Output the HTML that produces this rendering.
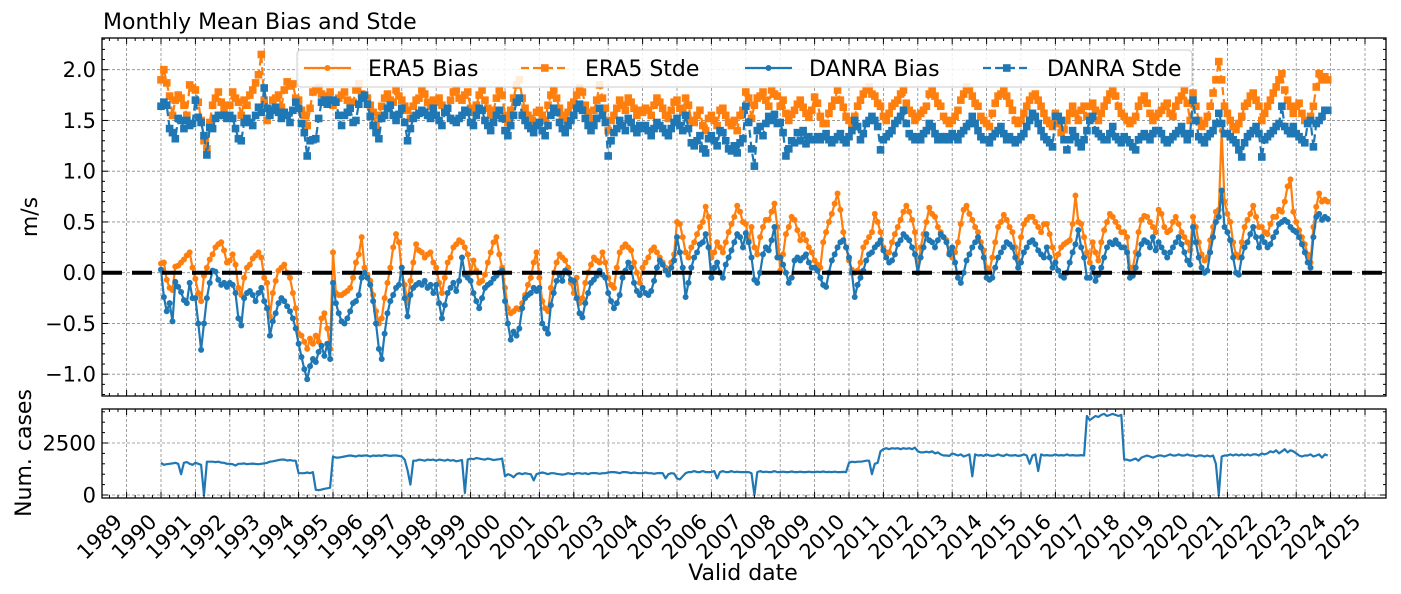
<!DOCTYPE html>
<html><head><meta charset="utf-8"><style>
html,body{margin:0;padding:0;background:#fff;}
svg{display:block;font-family:"DejaVu Sans","Liberation Sans",sans-serif;}
</style></head><body>
<svg id="chart" width="1401" height="594" viewBox="0 0 1401 594" xmlns="http://www.w3.org/2000/svg">
<defs>
<clipPath id="clipMain"><rect x="102" y="38" width="1284" height="358"/></clipPath>
<clipPath id="clipBot"><rect x="102" y="409" width="1284" height="89"/></clipPath>
</defs>
<text x="103" y="29" font-size="22" fill="#000">Monthly Mean Bias and Stde</text>
<text transform="translate(37,217) rotate(-90)" text-anchor="middle" font-size="22">m/s</text>
<text transform="translate(31,453) rotate(-90)" text-anchor="middle" font-size="22">Num. cases</text>
<text x="743" y="580" text-anchor="middle" font-size="22">Valid date</text>
<g id="gMain"></g>
<g id="gBot"></g>
<g id="gAxes"></g>
<g id="gLegend"></g>
</svg>
<script>
const startYear = 1990;
const mainTicks = [-1.0, -0.5, 0.0, 0.5, 1.0, 1.5, 2.0];
const mainTickLabels = ["\u22121.0", "\u22120.5", "0.0", "0.5", "1.0", "1.5", "2.0"];
const caseTicks = [0, 2500];
const caseTickLabels = ["0", "2500"];
const yearTicks = [1989,1990,1991,1992,1993,1994,1995,1996,1997,1998,1999,2000,2001,2002,2003,2004,2005,2006,2007,2008,2009,2010,2011,2012,2013,2014,2015,2016,2017,2018,2019,2020,2021,2022,2023,2024,2025];

const era5Bias = [
0.09,0.10,-0.07,-0.15,-0.17,0.06,0.07,0.10,0.13,0.17,0.20,0.05,
-0.06,-0.20,-0.28,-0.03,0.05,0.13,0.18,0.25,0.28,0.30,0.22,0.10,
0.12,0.18,0.08,-0.15,-0.22,-0.05,0.05,0.08,0.14,0.17,0.20,0.15,
-0.05,-0.10,-0.43,-0.20,-0.08,0.02,0.05,0.08,0.00,-0.05,-0.20,-0.35,
-0.60,-0.62,-0.68,-0.75,-0.65,-0.70,-0.62,-0.68,-0.45,-0.40,-0.55,-0.75,
0.20,-0.20,-0.22,-0.22,-0.20,-0.18,-0.15,-0.05,0.10,0.18,0.35,0.05,
-0.02,-0.08,-0.22,-0.38,-0.50,-0.45,-0.25,-0.10,0.05,0.25,0.38,0.30,
0.00,-0.12,-0.30,-0.08,0.10,0.28,0.22,0.20,0.15,0.18,0.20,0.10,
0.05,-0.10,-0.20,-0.05,0.10,0.15,0.25,0.28,0.32,0.30,0.25,0.18,
0.00,0.12,0.02,-0.10,-0.08,-0.02,0.10,0.20,0.30,0.35,0.18,0.05,
-0.15,-0.35,-0.40,-0.38,-0.35,-0.36,-0.30,-0.22,-0.12,-0.05,0.10,0.20,
-0.05,-0.28,-0.35,-0.38,-0.15,0.00,0.10,0.18,0.15,0.12,0.05,-0.10,
-0.20,-0.05,-0.30,-0.25,-0.10,0.00,0.08,0.15,0.12,0.10,0.20,0.10,
-0.05,-0.12,-0.15,0.05,0.20,0.25,0.28,0.25,0.22,0.10,0.00,-0.10,
0.05,0.10,0.15,0.22,0.25,0.20,0.15,0.10,0.05,0.02,0.10,0.18,
0.50,0.48,0.35,0.20,0.15,0.25,0.30,0.38,0.45,0.50,0.65,0.55,
0.15,0.20,0.30,0.25,0.20,0.30,0.40,0.48,0.55,0.66,0.60,0.50,
0.48,0.32,0.45,0.25,0.18,0.35,0.45,0.52,0.52,0.60,0.68,0.45,
0.02,0.18,0.38,0.45,0.55,0.52,0.42,0.32,0.38,0.32,0.25,0.20,
0.12,0.08,0.05,0.30,0.40,0.50,0.58,0.68,0.78,0.62,0.40,0.25,
0.12,0.03,0.00,0.02,0.10,0.25,0.30,0.35,0.40,0.58,0.50,0.40,
0.25,0.20,0.20,0.30,0.38,0.45,0.52,0.60,0.66,0.60,0.52,0.40,
0.00,0.25,0.38,0.50,0.64,0.58,0.55,0.45,0.40,0.35,0.32,0.20,
0.15,0.20,0.30,0.48,0.62,0.66,0.58,0.52,0.45,0.40,0.30,0.22,
0.05,0.02,0.15,0.30,0.45,0.50,0.57,0.52,0.45,0.40,0.25,0.12,
0.35,0.48,0.52,0.55,0.55,0.50,0.45,0.40,0.48,0.48,0.38,0.25,
0.10,0.18,0.25,0.28,0.30,0.32,0.48,0.76,0.50,0.48,0.35,0.20,
0.10,0.30,0.20,0.12,0.30,0.42,0.50,0.58,0.55,0.50,0.45,0.40,
0.40,0.35,0.05,0.05,0.20,0.40,0.52,0.56,0.55,0.50,0.45,0.40,
0.62,0.58,0.45,0.40,0.42,0.50,0.55,0.48,0.40,0.35,0.30,0.22,
0.55,0.45,0.30,0.18,0.12,0.15,0.32,0.45,0.60,0.62,1.40,0.70,
0.58,0.50,0.30,0.18,0.15,0.30,0.45,0.52,0.58,0.66,0.55,0.45,
0.45,0.40,0.38,0.48,0.55,0.55,0.62,0.60,0.70,0.85,0.92,0.60,
0.50,0.42,0.35,0.28,0.18,0.10,0.45,0.65,0.78,0.70,0.72,0.70];

const danraBias = [
0.03,-0.24,-0.38,-0.30,-0.48,-0.09,-0.14,-0.19,-0.27,-0.30,-0.10,-0.25,
-0.25,-0.50,-0.76,-0.50,-0.25,-0.10,0.02,0.01,-0.07,-0.12,-0.10,-0.14,
-0.10,-0.12,-0.20,-0.45,-0.52,-0.25,-0.20,-0.18,-0.22,-0.28,-0.20,-0.15,
-0.28,-0.35,-0.62,-0.48,-0.40,-0.30,-0.25,-0.28,-0.33,-0.38,-0.45,-0.55,
-0.70,-0.83,-0.95,-1.05,-0.92,-0.85,-0.88,-0.78,-0.72,-0.82,-0.70,-0.85,
-0.10,-0.30,-0.40,-0.48,-0.50,-0.45,-0.38,-0.30,-0.28,-0.22,-0.05,0.00,
-0.05,-0.12,-0.28,-0.50,-0.75,-0.85,-0.60,-0.40,-0.28,-0.22,-0.15,-0.12,
0.05,-0.25,-0.43,-0.22,-0.15,-0.12,-0.10,-0.12,-0.08,-0.15,-0.12,-0.20,
-0.12,-0.30,-0.45,-0.32,-0.20,-0.15,-0.10,-0.18,-0.08,0.15,-0.02,-0.05,
-0.08,-0.20,-0.28,-0.35,-0.25,-0.15,-0.12,-0.10,-0.06,-0.03,0.00,0.02,
-0.28,-0.50,-0.66,-0.58,-0.62,-0.55,-0.35,-0.25,-0.22,-0.20,-0.15,-0.18,
-0.15,-0.50,-0.55,-0.60,-0.32,-0.20,-0.08,-0.02,-0.08,0.02,0.00,-0.07,
-0.08,-0.25,-0.40,-0.44,-0.30,-0.20,-0.10,-0.07,-0.03,0.02,-0.02,-0.05,
-0.20,-0.28,-0.35,-0.30,-0.22,-0.05,0.02,0.10,0.05,-0.10,-0.18,-0.22,
-0.15,-0.20,-0.22,-0.18,-0.08,0.05,0.12,0.08,0.02,-0.02,0.05,0.12,
0.35,0.20,0.05,-0.24,-0.10,0.05,0.15,0.20,0.28,0.30,0.38,0.25,
-0.05,0.05,0.10,0.00,-0.05,0.08,0.15,0.22,0.30,0.38,0.35,0.25,
0.39,0.30,0.15,-0.07,-0.10,0.00,0.18,0.25,0.22,0.32,0.45,0.15,
0.15,0.08,0.00,-0.10,-0.05,0.12,0.15,0.12,0.15,0.18,0.10,0.05,
0.05,0.02,-0.05,-0.12,-0.14,0.00,0.12,0.18,0.25,0.30,0.32,0.25,
0.15,0.00,-0.24,-0.12,-0.05,0.02,0.12,0.18,0.20,0.25,0.28,0.32,
0.22,0.15,0.10,0.12,0.18,0.28,0.32,0.38,0.35,0.32,0.25,0.18,
0.00,0.15,0.25,0.38,0.32,0.30,0.25,0.32,0.38,0.35,0.30,0.18,
0.25,0.10,-0.05,-0.10,0.00,0.12,0.18,0.25,0.30,0.35,0.25,0.15,
-0.05,-0.07,-0.05,0.05,0.15,0.20,0.25,0.30,0.28,0.25,0.15,0.05,
0.10,0.20,0.25,0.30,0.32,0.28,0.22,0.18,0.15,0.25,0.15,0.05,
0.10,0.02,-0.03,-0.05,0.00,0.10,0.20,0.28,0.42,0.25,0.15,-0.05,
-0.05,0.05,-0.08,-0.02,0.05,0.15,0.25,0.30,0.28,0.32,0.28,0.25,
0.25,0.20,-0.05,-0.03,0.05,0.18,0.28,0.32,0.30,0.25,0.35,0.22,
0.30,0.25,0.20,0.15,0.20,0.25,0.30,0.35,0.28,0.20,0.12,0.08,
0.45,0.30,0.15,0.05,0.00,0.02,0.20,0.35,0.50,0.55,0.81,0.45,
0.40,0.32,0.15,0.00,-0.02,0.15,0.25,0.30,0.38,0.45,0.35,0.25,
0.35,0.30,0.25,0.28,0.35,0.40,0.48,0.50,0.52,0.50,0.45,0.42,
0.40,0.35,0.28,0.20,0.10,0.05,0.35,0.55,0.58,0.52,0.55,0.53];

const era5Stde = [
1.90,2.00,1.87,1.74,1.55,1.70,1.75,1.72,1.65,1.55,1.85,1.82,
1.80,1.68,1.50,1.30,1.22,1.48,1.65,1.72,1.78,1.68,1.62,1.65,
1.65,1.78,1.72,1.68,1.55,1.70,1.65,1.75,1.80,1.87,1.95,2.15,
1.70,1.50,1.62,1.70,1.72,1.75,1.63,1.80,1.88,1.84,1.86,1.72,
1.70,1.60,1.55,1.45,1.62,1.78,1.80,1.82,1.76,1.74,1.70,1.78,
1.65,1.68,1.72,1.75,1.78,1.70,1.64,1.68,1.80,1.86,1.76,1.72,
1.72,1.65,1.58,1.45,1.55,1.64,1.72,1.76,1.70,1.68,1.80,1.74,
1.70,1.64,1.60,1.52,1.64,1.70,1.72,1.80,1.76,1.68,1.64,1.70,
1.68,1.72,1.65,1.60,1.62,1.70,1.78,1.80,1.72,1.70,1.75,1.78,
1.62,1.58,1.65,1.75,1.80,1.70,1.62,1.55,1.60,1.72,1.80,1.75,
1.55,1.48,1.60,1.72,1.85,1.90,1.72,1.62,1.55,1.52,1.48,1.58,
1.60,1.55,1.50,1.65,1.75,1.80,1.72,1.62,1.55,1.50,1.58,1.65,
1.68,1.75,1.82,1.78,1.65,1.58,1.52,1.60,1.70,1.85,1.72,1.62,
1.40,1.50,1.55,1.62,1.70,1.65,1.60,1.72,1.68,1.62,1.55,1.60,
1.58,1.62,1.60,1.55,1.65,1.72,1.68,1.62,1.55,1.52,1.60,1.68,
1.70,1.62,1.58,1.72,1.65,1.50,1.48,1.55,1.60,1.45,1.40,1.52,
1.55,1.50,1.45,1.60,1.62,1.55,1.48,1.45,1.50,1.40,1.55,1.60,
1.78,1.72,1.52,1.65,1.72,1.74,1.78,1.70,1.64,1.80,1.76,1.74,
1.64,1.70,1.57,1.50,1.56,1.60,1.66,1.70,1.63,1.57,1.53,1.60,
1.73,1.67,1.54,1.47,1.47,1.57,1.64,1.70,1.80,1.70,1.63,1.54,
1.50,1.47,1.54,1.64,1.70,1.76,1.80,1.83,1.76,1.74,1.67,1.64,
1.54,1.50,1.57,1.64,1.67,1.70,1.76,1.80,1.67,1.60,1.57,1.50,
1.54,1.57,1.60,1.64,1.76,1.80,1.74,1.67,1.64,1.54,1.50,1.47,
1.50,1.54,1.60,1.70,1.76,1.83,1.80,1.74,1.67,1.64,1.54,1.50,
1.47,1.44,1.57,1.67,1.74,1.76,1.80,1.74,1.67,1.60,1.50,1.47,
1.50,1.57,1.64,1.70,1.74,1.76,1.70,1.64,1.57,1.50,1.47,1.44,
1.57,1.47,1.38,1.41,1.50,1.57,1.64,1.57,1.50,1.60,1.64,1.54,
1.64,1.67,1.60,1.50,1.57,1.64,1.70,1.76,1.80,1.74,1.64,1.57,
1.54,1.50,1.47,1.50,1.54,1.64,1.70,1.74,1.67,1.57,1.50,1.54,
1.57,1.60,1.64,1.67,1.57,1.54,1.64,1.70,1.74,1.80,1.67,1.50,
1.77,1.64,1.50,1.44,1.47,1.54,1.64,1.77,1.90,2.08,1.90,1.64,
1.57,1.50,1.44,1.41,1.47,1.54,1.64,1.67,1.74,1.77,1.70,1.64,
1.50,1.57,1.64,1.70,1.77,1.83,1.90,1.96,1.80,1.70,1.64,1.57,
1.64,1.67,1.57,1.50,1.47,1.54,1.64,1.83,1.96,1.90,1.93,1.90];

const danraStde = [
1.64,1.68,1.65,1.42,1.38,1.32,1.52,1.50,1.42,1.50,1.45,1.47,
1.70,1.53,1.48,1.35,1.16,1.43,1.42,1.52,1.55,1.55,1.55,1.52,
1.55,1.52,1.42,1.32,1.30,1.48,1.52,1.48,1.45,1.55,1.63,1.58,
1.82,1.62,1.55,1.60,1.63,1.58,1.52,1.58,1.55,1.48,1.60,1.68,
1.62,1.47,1.38,1.15,1.30,1.31,1.32,1.52,1.68,1.70,1.66,1.70,
1.70,1.68,1.55,1.45,1.55,1.58,1.62,1.48,1.50,1.66,1.72,1.75,
1.66,1.54,1.45,1.38,1.32,1.52,1.55,1.62,1.65,1.55,1.50,1.56,
1.62,1.48,1.30,1.42,1.52,1.55,1.57,1.60,1.58,1.55,1.52,1.62,
1.55,1.50,1.45,1.58,1.62,1.52,1.50,1.48,1.52,1.55,1.60,1.58,
1.48,1.45,1.55,1.62,1.60,1.50,1.45,1.40,1.48,1.55,1.60,1.52,
1.40,1.35,1.45,1.55,1.68,1.72,1.55,1.50,1.45,1.42,1.38,1.45,
1.48,1.40,1.35,1.45,1.55,1.62,1.58,1.48,1.42,1.38,1.45,1.50,
1.55,1.62,1.66,1.60,1.52,1.45,1.40,1.45,1.52,1.62,1.55,1.48,
1.15,1.30,1.38,1.42,1.50,1.45,1.40,1.52,1.48,1.42,1.38,1.45,
1.42,1.45,1.40,1.35,1.42,1.48,1.45,1.42,1.38,1.35,1.42,1.48,
1.52,1.45,1.40,1.55,1.42,1.28,1.25,1.30,1.35,1.22,1.18,1.32,
1.35,1.30,1.25,1.40,1.38,1.30,1.22,1.20,1.25,1.18,1.28,1.32,
1.64,1.48,1.22,1.05,1.40,1.44,1.35,1.47,1.54,1.50,1.56,1.47,
1.48,1.38,1.15,1.22,1.30,1.28,1.38,1.30,1.40,1.27,1.34,1.31,
1.31,1.34,1.31,1.34,1.37,1.31,1.28,1.31,1.34,1.37,1.31,1.28,
1.34,1.40,1.50,1.44,1.31,1.37,1.47,1.50,1.54,1.50,1.44,1.21,
1.31,1.34,1.37,1.40,1.47,1.50,1.54,1.60,1.47,1.37,1.34,1.31,
1.34,1.31,1.37,1.40,1.47,1.44,1.37,1.31,1.34,1.31,1.34,1.31,
1.37,1.34,1.31,1.37,1.40,1.44,1.47,1.54,1.47,1.40,1.34,1.31,
1.31,1.28,1.34,1.37,1.40,1.44,1.37,1.31,1.34,1.31,1.28,1.31,
1.34,1.37,1.44,1.50,1.57,1.54,1.47,1.40,1.34,1.31,1.28,1.24,
1.54,1.54,1.50,1.31,1.21,1.31,1.40,1.34,1.28,1.24,1.31,1.40,
1.50,1.54,1.40,1.37,1.34,1.31,1.31,1.37,1.44,1.34,1.31,1.28,
1.34,1.31,1.28,1.24,1.21,1.31,1.34,1.37,1.34,1.31,1.37,1.40,
1.40,1.37,1.31,1.28,1.31,1.34,1.37,1.40,1.44,1.37,1.31,1.37,
1.70,1.50,1.34,1.31,1.28,1.34,1.37,1.40,1.47,1.57,1.47,1.37,
1.37,1.34,1.31,1.28,1.21,1.14,1.28,1.34,1.37,1.40,1.44,1.37,
1.14,1.31,1.34,1.37,1.40,1.44,1.47,1.64,1.44,1.40,1.37,1.44,
1.37,1.34,1.31,1.28,1.47,1.50,1.24,1.47,1.50,1.54,1.60,1.60];

const numCases = [
1550,1450,1480,1500,1520,1550,1500,1000,1550,1580,1500,1450,
1550,1500,1450,0,1600,1600,1600,1580,1600,1560,1550,1500,
1500,1480,1420,1500,1500,1520,1480,1500,1510,1490,1480,1500,
1520,1550,1600,1620,1650,1680,1700,1700,1660,1680,1650,1650,
1050,1050,1050,1080,1050,1100,250,230,260,300,320,350,
1850,1800,1800,1820,1850,1880,1900,1880,1850,1900,1880,1900,
1900,1850,1900,1880,1900,1880,1920,1900,1880,1900,1900,1880,
1850,1700,1200,500,1650,1650,1700,1680,1650,1700,1680,1700,
1650,1700,1680,1650,1700,1650,1680,1620,1650,1680,100,1700,
1750,1720,1780,1750,1720,1700,1750,1720,1680,1700,1720,1750,
900,1000,950,850,1000,1050,1000,1050,1020,1000,700,1000,
1050,1080,1050,1000,1050,1050,1020,1000,980,1000,1050,1020,
1000,1050,1050,1020,1050,1000,1050,1060,1050,1020,1050,1050,
1080,1100,1100,1080,1050,1100,1100,1080,1050,1080,1060,1050,
1050,1080,1050,1050,1020,1050,1060,1050,800,1000,1050,1030,
800,750,900,1050,1100,1100,1150,1100,1100,1150,1100,1100,
1100,1150,800,1100,1150,1100,1100,1150,1100,1120,1100,1100,
1100,1100,1050,0,1100,1150,1100,1120,1100,1100,1150,1100,
1100,1120,1100,1100,1130,1100,1100,1120,1100,1100,1120,1100,
1100,1120,1100,1130,1100,1110,1100,1120,1100,1100,1110,1100,
1550,1600,1580,1600,1600,1620,1650,1650,1000,1500,1550,2100,
2200,2250,2200,2250,2230,2250,2200,2250,2220,2250,2200,2280,
2100,2050,2050,2080,2050,2100,2000,2050,1950,1900,1900,1880,
2000,1950,1900,1950,1850,1900,1950,900,1950,1900,1920,1880,
1950,1900,1880,1900,1950,1900,1880,1950,1900,1900,1920,1880,
1900,1950,1900,1500,1900,1950,1150,1950,1900,1920,1900,1900,
1950,1900,1920,1900,1950,1900,1920,1900,1900,1920,1900,3800,
3600,3700,3800,3750,3850,3900,3800,3850,3900,3850,3800,3850,
1700,1700,1650,1700,1750,1650,1800,1850,1900,1850,1800,1850,
1900,1900,1850,1900,1950,1900,1900,1950,1900,1900,1950,1900,
1900,1850,1900,1900,1850,1900,1850,1900,1500,0,1850,1900,
1900,1950,1900,1950,1900,1950,1900,1950,1900,1950,1950,1900,
2000,1950,2000,2100,2050,2150,2000,2100,2200,2050,2150,2100,
2000,1900,1850,1900,1900,1950,1850,1900,1950,1800,1950,1900];

const NS = "http://www.w3.org/2000/svg";
const ORANGE = "#ff7f0e", BLUE = "#1f77b4";
const L = 102, R = 1386, T1 = 38, B1 = 396, T2 = 409, B2 = 498;
function xScale(t){ return 161 + (t - 1990) * 34.4; }
function yMain(v){ return 272.7 - v * 101.5; }
function yCases(v){ return 495 - v * 52 / 2500; }
function tOf(i){ return startYear + i / 12; }
function mk(tag, attrs, parent){ const e = document.createElementNS(NS, tag); for (const k in attrs) e.setAttribute(k, attrs[k]); parent.appendChild(e); return e; }

const gMain = document.getElementById("gMain");
const gBot = document.getElementById("gBot");
const gAxes = document.getElementById("gAxes");
const gLegend = document.getElementById("gLegend");

const gridMain = mk("g", {"clip-path":"url(#clipMain)"}, gMain);


const gridBot = mk("g", {"clip-path":"url(#clipBot)"}, gBot);


const gs = {stroke:"#8a8a8a","stroke-width":"0.8","stroke-dasharray":"3,2",fill:"none"};
yearTicks.forEach(yr => {
  const x = xScale(yr);
  mk("line", Object.assign({x1:x,x2:x,y1:T1,y2:B1}, gs), gridMain);
  mk("line", Object.assign({x1:x,x2:x,y1:T2,y2:B2}, gs), gridBot);
});
mainTicks.forEach(v => { const y = yMain(v); mk("line", Object.assign({x1:L,x2:R,y1:y,y2:y}, gs), gridMain); });
caseTicks.forEach(v => { const y = yCases(v); mk("line", Object.assign({x1:L,x2:R,y1:y,y2:y}, gs), gridBot); });

function drawSeries(arr, color, dashed, marker, name){
  const g = mk("g", {"clip-path":"url(#clipMain)"}, gMain);
  
  
  const pts = arr.map((v,i) => xScale(tOf(i)).toFixed(1) + "," + yMain(v).toFixed(1)).join(" ");
  const pl = mk("polyline", {points:pts, fill:"none", stroke:color, "stroke-width":"2.2", "stroke-linejoin":"round"}, g);
  if (dashed) pl.setAttribute("stroke-dasharray", "8,4");
  arr.forEach((v,i) => {
    const x = xScale(tOf(i)), y = yMain(v);
    let m;
    if (marker === "circle") m = mk("circle", {cx:x, cy:y, r:3, fill:color}, g);
    else m = mk("rect", {x:x-3.8, y:y-3.8, width:7.6, height:7.6, fill:color}, g);
    
    
  });
}
drawSeries(era5Bias, ORANGE, false, "circle", "era5-bias-series");
drawSeries(era5Stde, ORANGE, true, "square", "era5-stde-series");
drawSeries(danraBias, BLUE, false, "circle", "danra-bias-series");
drawSeries(danraStde, BLUE, true, "square", "danra-stde-series");

const zero = mk("line", {x1:L, x2:R, y1:yMain(0), y2:yMain(0), stroke:"#000", "stroke-width":"4", "stroke-dasharray":"20,10"}, gMain);



const cg = mk("g", {"clip-path":"url(#clipBot)"}, gBot);


const cpts = numCases.map((v,i) => xScale(tOf(i)).toFixed(1) + "," + yCases(v).toFixed(1)).join(" ");
mk("polyline", {points:cpts, fill:"none", stroke:BLUE, "stroke-width":"2.2", "stroke-linejoin":"round"}, cg);

function frame(top, bottom, name){
  const r = mk("rect", {x:L, y:top, width:R-L, height:bottom-top, fill:"none", stroke:"#000", "stroke-width":"1.3"}, gAxes);
  
  
}
frame(T1, B1, "main-axes-frame");
frame(T2, B2, "cases-axes-frame");
const tk = {stroke:"#000","stroke-width":"1"};
function xTicks(top, bottom){
  yearTicks.forEach(yr => {
    const x = xScale(yr);
    mk("line", Object.assign({x1:x,x2:x,y1:bottom,y2:bottom-6}, tk), gAxes);
    mk("line", Object.assign({x1:x,x2:x,y1:top,y2:top+6}, tk), gAxes);
    if (yr < 2025) for (let q = 1; q < 4; q++) {
      const xm = xScale(yr + q/4);
      if (xm > R) continue;
      mk("line", Object.assign({x1:xm,x2:xm,y1:bottom,y2:bottom-3}, tk), gAxes);
      mk("line", Object.assign({x1:xm,x2:xm,y1:top,y2:top+3}, tk), gAxes);
    }
  });
  for (let q = 1; q < 4; q++) { const xm = xScale(1989 - q/4); if (xm > L) { mk("line", Object.assign({x1:xm,x2:xm,y1:bottom,y2:bottom-3}, tk), gAxes); mk("line", Object.assign({x1:xm,x2:xm,y1:top,y2:top+3}, tk), gAxes); } }
}
xTicks(T1, B1); xTicks(T2, B2);
for (let v = -1.2; v <= 2.31; v += 0.1) {
  const vv = Math.round(v*10)/10, y = yMain(vv);
  if (y < T1 || y > B1) continue;
  const major = Math.abs(vv*2 - Math.round(vv*2)) < 1e-6;
  const len = major ? 6 : 3;
  mk("line", Object.assign({x1:L,x2:L+len,y1:y,y2:y}, tk), gAxes);
  mk("line", Object.assign({x1:R,x2:R-len,y1:y,y2:y}, tk), gAxes);
}
for (let v = 0; v <= 4000; v += 500) {
  const y = yCases(v), major = v % 2500 === 0, len = major ? 6 : 3;
  mk("line", Object.assign({x1:L,x2:L+len,y1:y,y2:y}, tk), gAxes);
  mk("line", Object.assign({x1:R,x2:R-len,y1:y,y2:y}, tk), gAxes);
}
mainTicks.forEach((v,i) => {
  const t = mk("text", {x:96, y:yMain(v)+7.5, "text-anchor":"end", "font-size":"21"}, gAxes);
  t.textContent = mainTickLabels[i];
  
  
});
caseTicks.forEach((v,i) => {
  const t = mk("text", {x:96, y:yCases(v)+7.5, "text-anchor":"end", "font-size":"21"}, gAxes);
  t.textContent = caseTickLabels[i];
  
  
});
yearTicks.forEach(yr => {
  const x = xScale(yr) - 3, y = 523;
  const t = mk("text", {x:x, y:y, "text-anchor":"end", "font-size":"21", transform:"rotate(-45 "+x+" "+y+")"}, gAxes);
  t.textContent = String(yr);
  
  
});

const lb = mk("rect", {x:297, y:50, width:895, height:37, rx:4, fill:"#fff", "fill-opacity":"0.85", stroke:"#cccccc", "stroke-width":"1"}, gLegend);


const legendLabels = ["ERA5 Bias", "ERA5 Stde", "DANRA Bias", "DANRA Stde"];
const legendColors = [ORANGE, ORANGE, BLUE, BLUE];
const legendDashed = [false, true, false, true];
const legendMarkers = ["circle", "square", "circle", "square"];
const legendX = [304, 521, 745, 983];
legendLabels.forEach((lab, i) => {
  const g = mk("g", {}, gLegend);
  
  
  const x0 = legendX[i], y = 68;
  const ln = mk("line", {x1:x0, x2:x0+47, y1:y, y2:y, stroke:legendColors[i], "stroke-width":"2.2"}, g);
  if (legendDashed[i]) ln.setAttribute("stroke-dasharray", "8,4");
  if (legendMarkers[i] === "circle") mk("circle", {cx:x0+23.5, cy:y, r:3, fill:legendColors[i]}, g);
  else mk("rect", {x:x0+20, y:y-3.8, width:7.6, height:7.6, fill:legendColors[i]}, g);
  const t = mk("text", {x:x0+64, y:y+8, "font-size":"22"}, g);
  t.textContent = lab;
});
</script>
</body></html>
